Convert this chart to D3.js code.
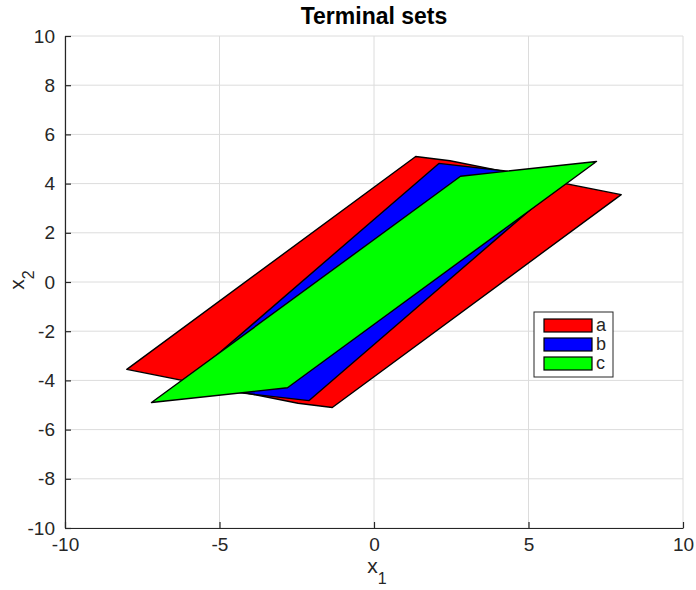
<!DOCTYPE html>
<html>
<head>
<meta charset="utf-8">
<script src="https://cdn.jsdelivr.net/npm/d3@7"></script>
<style>
body { margin: 0; background: #fff; }
text { font-family: "Liberation Sans", Arial, sans-serif; }
</style>
</head>
<body>
<div id="chart"></div>
<script>
/*Data*/
var seriesNames = ["a", "b", "c"];
var seriesColors = ["#ff0000", "#0000ff", "#00ff00"];
var setA = [[-8.0, -3.55], [-2.46, -4.93], [-1.35, -5.1], [8.0, 3.55], [2.46, 4.93], [1.35, 5.1]];
var setB = [[-6.25, -4.23], [-2.1, -4.82], [6.25, 4.23], [2.1, 4.82]];
var setC = [[-7.2, -4.9], [-2.8, -4.3], [7.2, 4.9], [2.8, 4.3]];
var xTicks = [-10, -5, 0, 5, 10];
var yTicks = [-10, -8, -6, -4, -2, 0, 2, 4, 6, 8, 10];
var sets = [setA, setB, setC];

var width = 696, height = 590;
var margin = {left: 65, right: 13, top: 36, bottom: 62};

var svg = d3.select("#chart").append("svg")
	.attr("width", width)
	.attr("height", height);

var x = d3.scaleLinear().domain([-10, 10]).range([margin.left, width - margin.right]);
var y = d3.scaleLinear().domain([-10, 10]).range([height - margin.bottom, margin.top]);

/*Grid*/
svg.append("g").selectAll("line.gx")
	.data(xTicks).enter().append("line")
	.attr("x1", d => x(d)).attr("x2", d => x(d))
	.attr("y1", y(-10)).attr("y2", y(10))
	.style("stroke", "#dcdcdc").style("stroke-width", 1);
svg.append("g").selectAll("line.gy")
	.data(yTicks).enter().append("line")
	.attr("x1", x(-10)).attr("x2", x(10))
	.attr("y1", d => y(d)).attr("y2", d => y(d))
	.style("stroke", "#dcdcdc").style("stroke-width", 1);

/*Polygons*/
var line = d3.line().x(d => x(d[0])).y(d => y(d[1]));
svg.append("g").selectAll("path")
	.data(sets).enter().append("path")
	.attr("d", d => line(d) + "Z")
	.style("fill", (d, i) => seriesColors[i])
	.style("stroke", "#000")
	.style("stroke-width", 1.4)
	.style("stroke-linejoin", "round");

/*Axes*/
var fmt = d => String(d);
var xAxis = d3.axisBottom(x).tickValues(xTicks).tickFormat(fmt).tickSizeInner(-6).tickSizeOuter(0).tickPadding(10);
var yAxis = d3.axisLeft(y).tickValues(yTicks).tickFormat(fmt).tickSizeInner(-6).tickSizeOuter(0).tickPadding(10);

svg.append("g")
	.attr("transform", "translate(0," + y(-10) + ")")
	.call(xAxis)
	.call(g => g.selectAll("text").style("font-size", "19px").style("fill", "#262626"))
	.call(g => g.selectAll("line, path").style("stroke", "#262626").style("stroke-width", 1.2));

svg.append("g")
	.attr("transform", "translate(" + x(-10) + ",0)")
	.call(yAxis)
	.call(g => g.selectAll("text").style("font-size", "19px").style("fill", "#262626"))
	.call(g => g.selectAll("line, path").style("stroke", "#262626").style("stroke-width", 1.2));

/*Title and labels*/
svg.append("text")
	.attr("x", x(0)).attr("y", 24)
	.attr("text-anchor", "middle")
	.style("font-size", "23px").style("font-weight", "bold")
	.text("Terminal sets");

var xl = svg.append("text")
	.attr("x", x(0) + 3).attr("y", 573)
	.attr("text-anchor", "middle")
	.style("font-size", "21px").style("fill", "#262626");
xl.append("tspan").text("x");
xl.append("tspan").attr("dy", 11).style("font-size", "16px").text("1");

var yl = svg.append("text")
	.attr("transform", "translate(24,280) rotate(-90)")
	.attr("text-anchor", "middle")
	.style("font-size", "21px").style("fill", "#262626");
yl.append("tspan").text("x");
yl.append("tspan").attr("dy", 10).style("font-size", "16px").text("2");

/*Legend*/
var legend = svg.append("g").attr("transform", "translate(534,312)");
legend.append("rect")
	.attr("width", 79).attr("height", 65)
	.style("fill", "#fff").style("stroke", "#262626").style("stroke-width", 1);
var items = legend.selectAll("g.item")
	.data(seriesNames).enter().append("g")
	.attr("transform", (d, i) => "translate(0," + (7 + i * 19) + ")");
items.append("rect")
	.attr("x", 10).attr("width", 48).attr("height", 13)
	.style("fill", (d, i) => seriesColors[i])
	.style("stroke", "#000").style("stroke-width", 1.2);
items.append("text")
	.attr("x", 62).attr("y", 12)
	.style("font-size", "18px").style("fill", "#262626")
	.text(d => d);
</script>
</body>
</html>
